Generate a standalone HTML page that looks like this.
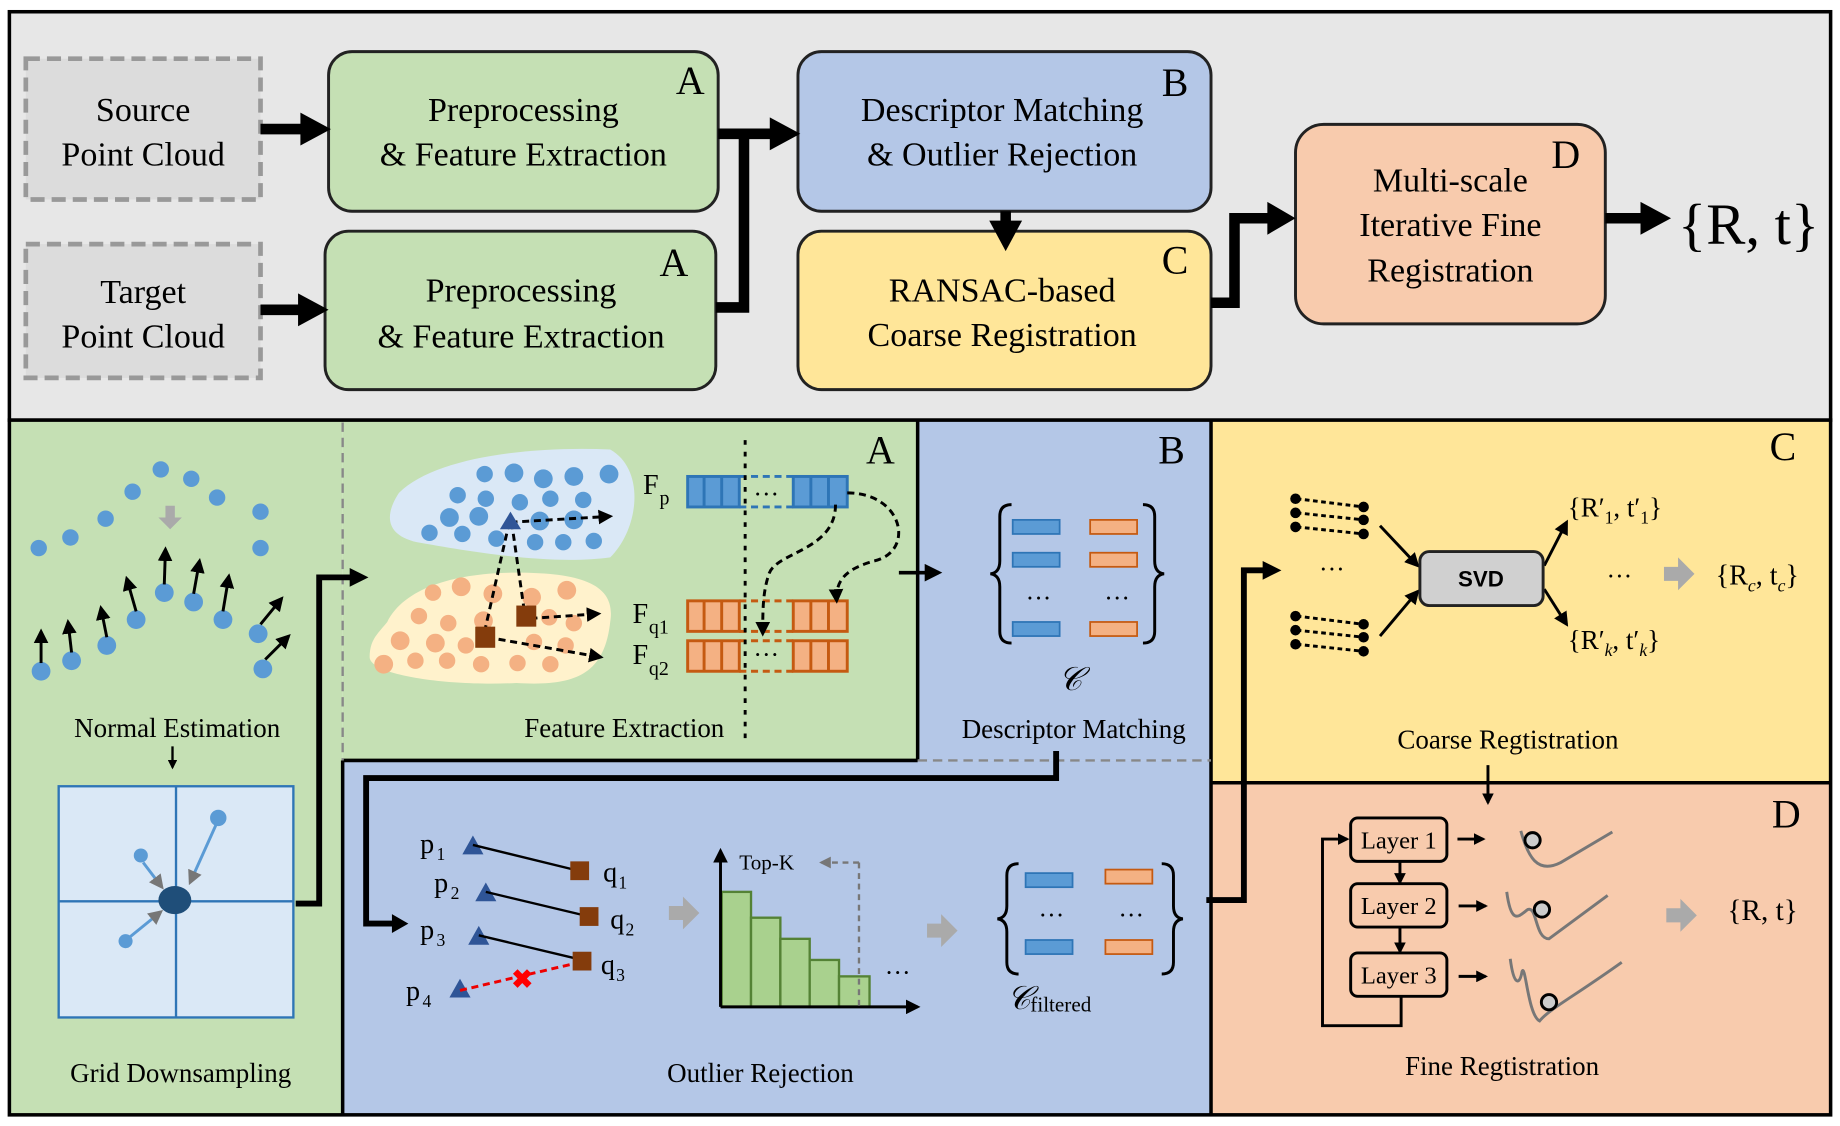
<!DOCTYPE html>
<html><head><meta charset="utf-8"><style>html,body{margin:0;padding:0;background:#fff}svg{display:block}</style></head><body>
<svg width="1840" height="1126" viewBox="0 0 1568 959.5" preserveAspectRatio="none" xmlns="http://www.w3.org/2000/svg" font-family="Liberation Serif, serif">
<defs>
<marker id="ah" viewBox="0 0 10 10" refX="8" refY="5" markerWidth="5" markerHeight="5" orient="auto"><path d="M0,0 L10,5 L0,10 z" fill="#000"/></marker>
<marker id="ahs" viewBox="0 0 10 10" refX="8" refY="5" markerWidth="4" markerHeight="4" orient="auto"><path d="M0,0 L10,5 L0,10 z" fill="#000"/></marker>
<marker id="ahg" viewBox="0 0 10 10" refX="8" refY="5" markerWidth="5" markerHeight="5" orient="auto"><path d="M0,0 L10,5 L0,10 z" fill="#777"/></marker>
</defs>
<!-- top panel -->
<rect x="8" y="10" width="1552" height="348" fill="#e7e7e7" stroke="#000" stroke-width="3"/>
<rect x="22" y="50" width="200" height="120" fill="#dcdcdc" stroke="#999" stroke-width="4" stroke-dasharray="12,6"/>
<text x="122" y="103" font-size="29" text-anchor="middle">Source</text>
<text x="122" y="141" font-size="29" text-anchor="middle">Point Cloud</text>
<rect x="22" y="208" width="200" height="114" fill="#dcdcdc" stroke="#999" stroke-width="4" stroke-dasharray="12,6"/>
<text x="122" y="258" font-size="29" text-anchor="middle">Target</text>
<text x="122" y="296" font-size="29" text-anchor="middle">Point Cloud</text>
<rect x="280" y="44" width="332" height="136" rx="20" fill="#c5e0b4" stroke="#222" stroke-width="2.5"/>
<text x="446" y="103" font-size="29" text-anchor="middle">Preprocessing</text>
<text x="446" y="141" font-size="29" text-anchor="middle">&amp; Feature Extraction</text>
<text x="576" y="80" font-size="34">A</text>
<rect x="277" y="197" width="333" height="135" rx="20" fill="#c5e0b4" stroke="#222" stroke-width="2.5"/>
<text x="444" y="257" font-size="29" text-anchor="middle">Preprocessing</text>
<text x="444" y="296" font-size="29" text-anchor="middle">&amp; Feature Extraction</text>
<text x="562" y="235" font-size="34">A</text>
<rect x="680" y="44" width="352" height="136" rx="20" fill="#b4c7e7" stroke="#222" stroke-width="2.5"/>
<text x="854" y="103" font-size="29" text-anchor="middle">Descriptor Matching</text>
<text x="854" y="141" font-size="29" text-anchor="middle">&amp; Outlier Rejection</text>
<text x="990" y="82" font-size="34">B</text>
<rect x="680" y="197" width="352" height="135" rx="20" fill="#ffe699" stroke="#222" stroke-width="2.5"/>
<text x="854" y="257" font-size="29" text-anchor="middle">RANSAC-based</text>
<text x="854" y="295" font-size="29" text-anchor="middle">Coarse Registration</text>
<text x="990" y="233" font-size="34">C</text>
<rect x="1104" y="106" width="264" height="170" rx="24" fill="#f8cbad" stroke="#222" stroke-width="2.5"/>
<text x="1236" y="163" font-size="29" text-anchor="middle">Multi-scale</text>
<text x="1236" y="201" font-size="29" text-anchor="middle">Iterative Fine</text>
<text x="1236" y="240" font-size="29" text-anchor="middle">Registration</text>
<text x="1322" y="143" font-size="34">D</text>
<text x="1430" y="208" font-size="50">{R, t}</text>
<g stroke="#000" stroke-width="9" fill="none">
<line x1="222" y1="110" x2="262" y2="110"/><line x1="222" y1="264" x2="260" y2="264"/>
<polyline points="612,114 634,114 634,262 610,262"/><line x1="634" y1="114" x2="662" y2="114"/>
<line x1="857" y1="180" x2="857" y2="196"/>
<polyline points="1032,258 1052,258 1052,186 1086,186"/>
<line x1="1368" y1="186" x2="1406" y2="186"/>
</g>
<g fill="#000">
<path d="M256,96 L282,110 L256,124z"/><path d="M254,250 L280,264 L254,278z"/>
<path d="M656,100 L682,114 L656,128z"/><path d="M843,188 L857,214 L871,188z"/>
<path d="M1080,172 L1104,186 L1080,200z"/><path d="M1398,172 L1424,186 L1398,200z"/>
</g>
<!-- bottom panels -->
<rect x="8" y="358" width="284" height="592" fill="#c5e0b4"/>
<rect x="292" y="358" width="490" height="290" fill="#c5e0b4"/>
<rect x="782" y="358" width="250" height="290" fill="#b4c7e7"/>
<rect x="292" y="648" width="740" height="302" fill="#b4c7e7"/>
<rect x="1032" y="358" width="528" height="309" fill="#ffe699"/>
<rect x="1032" y="667" width="528" height="283" fill="#f8cbad"/>
<g stroke="#000" stroke-width="3" fill="none">
<rect x="8" y="358" width="1552" height="592"/>
<line x1="292" y1="648" x2="292" y2="950"/><line x1="292" y1="648" x2="782" y2="648"/>
<line x1="782" y1="358" x2="782" y2="648"/><line x1="1032" y1="358" x2="1032" y2="950"/>
<line x1="1032" y1="667" x2="1560" y2="667"/>
</g>
<line x1="292" y1="360" x2="292" y2="648" stroke="#888" stroke-width="2" stroke-dasharray="8,5"/>
<line x1="782" y1="648" x2="1032" y2="648" stroke="#888" stroke-width="2" stroke-dasharray="8,5"/>
<text x="738" y="395" font-size="34">A</text><text x="987" y="395" font-size="34">B</text>
<text x="1508" y="392" font-size="34">C</text><text x="1510" y="705" font-size="34">D</text>
<!-- normal estimation -->
<g fill="#5b9bd5">
<ellipse cx="33" cy="467" rx="7" ry="7"/><ellipse cx="60" cy="458" rx="7" ry="7"/><ellipse cx="90" cy="442" rx="7" ry="7"/>
<ellipse cx="113" cy="419" rx="7" ry="7"/><ellipse cx="137" cy="400" rx="7" ry="7"/><ellipse cx="163" cy="408" rx="7" ry="7"/>
<ellipse cx="185" cy="424" rx="7" ry="7"/><ellipse cx="222" cy="436" rx="7" ry="7"/><ellipse cx="222" cy="467" rx="7" ry="7"/>
<ellipse cx="35" cy="572" rx="8" ry="8"/><ellipse cx="61" cy="563" rx="8" ry="8"/><ellipse cx="91" cy="550" rx="8" ry="8"/>
<ellipse cx="116" cy="528" rx="8" ry="8"/><ellipse cx="140" cy="505" rx="8" ry="8"/><ellipse cx="165" cy="513" rx="8" ry="8"/>
<ellipse cx="190" cy="528" rx="8" ry="8"/><ellipse cx="220" cy="540" rx="8" ry="8"/><ellipse cx="224" cy="570" rx="8" ry="8"/>
</g>
<path d="M141,431 h8 v10 h6 l-10,10 l-10,-10 h6z" fill="#aaa"/>
<g stroke="#000" stroke-width="2.5" marker-end="url(#ah)">
<line x1="35" y1="565" x2="35" y2="538"/><line x1="61" y1="556" x2="58" y2="530"/><line x1="91" y1="543" x2="86" y2="518"/>
<line x1="116" y1="521" x2="108" y2="493"/><line x1="140" y1="498" x2="141" y2="468"/><line x1="165" y1="506" x2="170" y2="478"/>
<line x1="190" y1="521" x2="195" y2="491"/><line x1="222" y1="532" x2="240" y2="510"/><line x1="226" y1="562" x2="246" y2="542"/>
</g>
<text x="151" y="628" font-size="23" text-anchor="middle">Normal Estimation</text>
<line x1="147" y1="636" x2="147" y2="654" stroke="#000" stroke-width="2" marker-end="url(#ahs)"/>
<rect x="50" y="670" width="200" height="197" fill="#dae8f6" stroke="#2e75b6" stroke-width="2"/>
<line x1="150" y1="670" x2="150" y2="867" stroke="#2e75b6" stroke-width="2"/><line x1="50" y1="768" x2="250" y2="768" stroke="#2e75b6" stroke-width="2"/>
<ellipse cx="149" cy="767" rx="14" ry="12" fill="#1f4e79"/>
<g fill="#5b9bd5"><circle cx="186" cy="697" r="7"/><circle cx="120" cy="729" r="6"/><circle cx="107" cy="802" r="6"/></g>
<g stroke="#5b9bd5" stroke-width="2.5" marker-end="url(#ahg)"><line x1="184" y1="703" x2="162" y2="752"/><line x1="122" y1="735" x2="138" y2="756"/><line x1="110" y1="799" x2="137" y2="777"/></g>
<text x="154" y="922" font-size="23" text-anchor="middle">Grid Downsampling</text>
<polyline points="252,770 272,770 272,492 300,492" stroke="#000" stroke-width="5" fill="none"/><path d="M298,484 L314,492 L298,500z"/>
<!-- feature extraction -->
<path d="M340,420 C370,390 450,380 520,383 C550,400 545,450 520,475 C470,482 400,470 355,462 C325,455 330,435 340,420z" fill="#dae8f6"/>
<path d="M330,530 C345,500 390,488 440,488 C500,488 525,500 520,530 C515,575 490,585 440,582 C380,585 315,575 315,560 C315,545 322,540 330,530z" fill="#fff2cc"/>
<g fill="#5b9bd5">
<circle cx="413" cy="404" r="7"/><circle cx="438" cy="403" r="8"/><circle cx="463" cy="408" r="8"/><circle cx="489" cy="406" r="8"/><circle cx="519" cy="404" r="8"/>
<circle cx="390" cy="422" r="7"/><circle cx="414" cy="425" r="7"/><circle cx="443" cy="428" r="7"/><circle cx="469" cy="425" r="7"/><circle cx="497" cy="426" r="7"/>
<circle cx="383" cy="441" r="8"/><circle cx="408" cy="440" r="8"/><circle cx="460" cy="444" r="8"/><circle cx="489" cy="443" r="8"/>
<circle cx="366" cy="454" r="7"/><circle cx="394" cy="455" r="7"/><circle cx="423" cy="459" r="7"/><circle cx="456" cy="462" r="7"/><circle cx="480" cy="462" r="7"/><circle cx="506" cy="461" r="7"/>
</g>
<g fill="#f4b183">
<circle cx="369" cy="505" r="7"/><circle cx="393" cy="500" r="8"/><circle cx="420" cy="506" r="8"/><circle cx="453" cy="509" r="8"/><circle cx="483" cy="503" r="8"/>
<circle cx="357" cy="525" r="7"/><circle cx="382" cy="531" r="7"/><circle cx="412" cy="529" r="8"/><circle cx="468" cy="526" r="7"/><circle cx="489" cy="531" r="7"/>
<circle cx="341" cy="546" r="8"/><circle cx="371" cy="548" r="8"/><circle cx="397" cy="550" r="7"/><circle cx="455" cy="547" r="7"/><circle cx="482" cy="550" r="7"/>
<circle cx="327" cy="566" r="8"/><circle cx="354" cy="563" r="7"/><circle cx="381" cy="563" r="7"/><circle cx="410" cy="566" r="7"/><circle cx="441" cy="565" r="7"/><circle cx="469" cy="566" r="7"/>
</g>
<g stroke="#000" stroke-width="2.5" stroke-dasharray="6,4" fill="none">
<line x1="435" y1="445" x2="520" y2="440" marker-end="url(#ah)"/>
<line x1="434" y1="445" x2="413" y2="538"/><line x1="436" y1="445" x2="447" y2="522"/>
<line x1="452" y1="527" x2="510" y2="523" marker-end="url(#ah)"/>
<line x1="415" y1="543" x2="512" y2="560" marker-end="url(#ah)"/>
</g>
<path d="M426,451 L435,436 L444,451z" fill="#2f5597"/>
<rect x="440" y="516" width="17" height="18" fill="#843c0c"/><rect x="405" y="534" width="17" height="18" fill="#843c0c"/>
<text x="548" y="421" font-size="24">F</text><text x="562" y="430" font-size="17">p</text>
<text x="539" y="531" font-size="24">F</text><text x="553" y="540" font-size="17">q1</text>
<text x="539" y="566" font-size="24">F</text><text x="553" y="575" font-size="17">q2</text>
<g stroke-width="2.5">
<rect x="586" y="406" width="44" height="26" fill="#5b9bd5" stroke="#2e75b6"/><rect x="676" y="406" width="46" height="26" fill="#5b9bd5" stroke="#2e75b6"/>
<path d="M600,406v26M615,406v26M691,406v26M706,406v26" stroke="#2e75b6"/>
<path d="M630,406h46M630,432h46" stroke="#2e75b6" stroke-dasharray="6,4"/>
<rect x="586" y="512" width="44" height="26" fill="#f4b183" stroke="#c55a11"/><rect x="676" y="512" width="46" height="26" fill="#f4b183" stroke="#c55a11"/>
<rect x="586" y="546" width="44" height="26" fill="#f4b183" stroke="#c55a11"/><rect x="676" y="546" width="46" height="26" fill="#f4b183" stroke="#c55a11"/>
<path d="M600,512v26M615,512v26M691,512v26M706,512v26M600,546v26M615,546v26M691,546v26M706,546v26" stroke="#c55a11"/>
<path d="M630,512h46M630,538h46M630,546h46M630,572h46" stroke="#c55a11" stroke-dasharray="6,4"/>
</g>
<text x="653" y="428" font-size="22" text-anchor="middle">···</text><text x="653" y="565" font-size="22" text-anchor="middle">···</text>
<line x1="635" y1="375" x2="635" y2="630" stroke="#000" stroke-width="2.5" stroke-dasharray="4,6"/>
<g stroke="#000" stroke-width="2.5" stroke-dasharray="6,4" fill="none">
<path d="M722,420 C770,420 780,470 745,478 C720,485 712,495 713,512" marker-end="url(#ah)"/>
<path d="M712,430 C712,470 660,470 655,490 C650,505 650,520 650,540" marker-end="url(#ah)"/>
</g>
<text x="532" y="628" font-size="23" text-anchor="middle">Feature Extraction</text>
<line x1="766" y1="488" x2="800" y2="488" stroke="#000" stroke-width="3" marker-end="url(#ah)"/>
<!-- descriptor matching -->
<g fill="none" stroke="#000" stroke-width="2.5">
<path d="M862,430 q-10,0 -10,10 v38 q0,10 -8,11 q8,1 8,11 v38 q0,10 10,10"/>
<path d="M974,430 q10,0 10,10 v38 q0,10 8,11 q-8,1 -8,11 v38 q0,10 -10,10"/>
</g>
<g fill="#5b9bd5" stroke="#2e75b6" stroke-width="1.5">
<rect x="863" y="443" width="40" height="12"/><rect x="863" y="471" width="40" height="12"/><rect x="863" y="530" width="40" height="12"/></g>
<g fill="#f4b183" stroke="#c55a11" stroke-width="1.5">
<rect x="929" y="443" width="40" height="12"/><rect x="929" y="471" width="40" height="12"/><rect x="929" y="530" width="40" height="12"/></g>
<text x="885" y="517" font-size="22" text-anchor="middle">···</text><text x="952" y="517" font-size="22" text-anchor="middle">···</text>
<text x="912" y="588" font-size="28" font-style="italic" text-anchor="middle">𝒞</text>
<text x="915" y="629" font-size="23" text-anchor="middle">Descriptor Matching</text>
<!-- outlier rejection -->
<polyline points="900,640 900,663 312,663 312,787 340,787" stroke="#000" stroke-width="5" fill="none"/><path d="M334,779 L348,787 L334,795z"/>
<text x="358" y="727" font-size="24">p</text><text x="372" y="733" font-size="15">1</text>
<text x="370" y="760" font-size="24">p</text><text x="384" y="766" font-size="15">2</text>
<text x="358" y="800" font-size="24">p</text><text x="372" y="806" font-size="15">3</text>
<text x="346" y="852" font-size="24">p</text><text x="360" y="858" font-size="15">4</text>
<g fill="#2f5597"><path d="M394,728 L403,712 L412,728z"/><path d="M405,768 L414,752 L423,768z"/><path d="M399,805 L408,789 L417,805z"/><path d="M383,850 L392,834 L401,850z"/></g>
<g stroke="#000" stroke-width="2"><line x1="403" y1="720" x2="493" y2="742"/><line x1="414" y1="760" x2="502" y2="781"/><line x1="408" y1="797" x2="496" y2="818"/></g>
<line x1="392" y1="844" x2="494" y2="820" stroke="#e00" stroke-width="2.5" stroke-dasharray="6,4"/>
<text x="445" y="842" font-size="22" fill="#f00" text-anchor="middle" font-weight="bold">✖</text>
<g fill="#843c0c"><rect x="486" y="734" width="16" height="16"/><rect x="494" y="773" width="16" height="16"/><rect x="488" y="811" width="16" height="16"/></g>
<text x="514" y="751" font-size="24">q</text><text x="527" y="757" font-size="15">1</text>
<text x="520" y="791" font-size="24">q</text><text x="533" y="797" font-size="15">2</text>
<text x="512" y="830" font-size="24">q</text><text x="525" y="836" font-size="15">3</text>
<path d="M570,772 h12 v-8 l14,14 l-14,14 v-8 h-12z" fill="#aaa"/>
<g fill="#a9d18e" stroke="#548235" stroke-width="2">
<rect x="615" y="760" width="25" height="98"/><rect x="640" y="782" width="25" height="76"/><rect x="665" y="800" width="25" height="58"/><rect x="690" y="818" width="25" height="40"/><rect x="715" y="832" width="26" height="26"/></g>
<line x1="614" y1="858" x2="782" y2="858" stroke="#000" stroke-width="2.5" marker-end="url(#ah)"/>
<line x1="614" y1="858" x2="614" y2="725" stroke="#000" stroke-width="2.5" marker-end="url(#ah)"/>
<text x="630" y="741" font-size="18">Top-K</text>
<line x1="732" y1="735" x2="732" y2="858" stroke="#777" stroke-width="2" stroke-dasharray="5,4"/>
<line x1="732" y1="735" x2="700" y2="735" stroke="#777" stroke-width="2" stroke-dasharray="5,4" marker-end="url(#ahg)"/>
<text x="765" y="836" font-size="22" text-anchor="middle">···</text>
<path d="M790,787 h12 v-8 l14,14 l-14,14 v-8 h-12z" fill="#aaa"/>
<g fill="none" stroke="#000" stroke-width="2.5">
<path d="M868,736 q-10,0 -10,10 v26 q0,10 -8,11 q8,1 8,11 v26 q0,10 10,10"/>
<path d="M990,736 q10,0 10,10 v26 q0,10 8,11 q-8,1 -8,11 v26 q0,10 -10,10"/>
</g>
<g fill="#5b9bd5" stroke="#2e75b6" stroke-width="1.5"><rect x="874" y="744" width="40" height="12"/><rect x="874" y="801" width="40" height="12"/></g>
<g fill="#f4b183" stroke="#c55a11" stroke-width="1.5"><rect x="942" y="741" width="40" height="12"/><rect x="942" y="801" width="40" height="12"/></g>
<text x="896" y="787" font-size="22" text-anchor="middle">···</text><text x="964" y="787" font-size="22" text-anchor="middle">···</text>
<text x="858" y="860" font-size="28" font-style="italic">𝒞</text><text x="878" y="862" font-size="18">filtered</text>
<text x="648" y="922" font-size="23" text-anchor="middle">Outlier Rejection</text>
<polyline points="1028,767 1060,767 1060,486 1080,486" stroke="#000" stroke-width="5" fill="none"/><path d="M1076,478 L1092,486 L1076,494z"/>
<!-- coarse -->
<g stroke="#000" stroke-width="2.5">
<line x1="1105" y1="425" x2="1162" y2="432" stroke-dasharray="4,3"/><line x1="1105" y1="437" x2="1162" y2="443" stroke-dasharray="4,3"/><line x1="1105" y1="449" x2="1162" y2="455" stroke-dasharray="4,3"/>
<line x1="1105" y1="525" x2="1162" y2="532" stroke-dasharray="4,3"/><line x1="1105" y1="537" x2="1162" y2="543" stroke-dasharray="4,3"/><line x1="1105" y1="549" x2="1162" y2="555" stroke-dasharray="4,3"/>
</g>
<g fill="#000"><circle cx="1104" cy="425" r="4.5"/><circle cx="1104" cy="437" r="4.5"/><circle cx="1104" cy="449" r="4.5"/><circle cx="1162" cy="432" r="4.5"/><circle cx="1162" cy="443" r="4.5"/><circle cx="1162" cy="455" r="4.5"/>
<circle cx="1104" cy="525" r="4.5"/><circle cx="1104" cy="537" r="4.5"/><circle cx="1104" cy="549" r="4.5"/><circle cx="1162" cy="532" r="4.5"/><circle cx="1162" cy="543" r="4.5"/><circle cx="1162" cy="555" r="4.5"/></g>
<text x="1135" y="492" font-size="22" text-anchor="middle">···</text>
<g stroke="#000" stroke-width="2.5" marker-end="url(#ah)">
<line x1="1176" y1="448" x2="1208" y2="482"/><line x1="1176" y1="542" x2="1208" y2="504"/>
<line x1="1316" y1="482" x2="1335" y2="445"/><line x1="1316" y1="502" x2="1335" y2="532"/></g>
<rect x="1210" y="470" width="105" height="46" rx="8" fill="#d0d0d0" stroke="#222" stroke-width="2.5"/>
<text x="1262" y="500" font-size="19" font-weight="bold" font-family="Liberation Sans, sans-serif" text-anchor="middle">SVD</text>
<text x="1336" y="440" font-size="23">{R′<tspan font-size="15" dy="6">1</tspan><tspan dy="-6">, t′</tspan><tspan font-size="15" dy="6">1</tspan><tspan dy="-6">}</tspan></text>
<text x="1336" y="553" font-size="23">{R′<tspan font-size="15" dy="6" font-style="italic">k</tspan><tspan dy="-6">, t′</tspan><tspan font-size="15" dy="6" font-style="italic">k</tspan><tspan dy="-6">}</tspan></text>
<text x="1380" y="498" font-size="22" text-anchor="middle">···</text>
<path d="M1418,483 h12 v-8 l14,14 l-14,14 v-8 h-12z" fill="#aaa"/>
<text x="1462" y="498" font-size="24">{R<tspan font-size="15" dy="6" font-style="italic">c</tspan><tspan dy="-6">, t</tspan><tspan font-size="15" dy="6" font-style="italic">c</tspan><tspan dy="-6">}</tspan></text>
<text x="1285" y="638" font-size="23" text-anchor="middle">Coarse Regtistration</text>
<line x1="1268" y1="652" x2="1268" y2="684" stroke="#000" stroke-width="2.5" marker-end="url(#ahs)"/>
<!-- fine -->
<g fill="none" stroke="#000" stroke-width="2.5">
<rect x="1151" y="697" width="82" height="37" rx="6"/><rect x="1151" y="753" width="82" height="37" rx="6"/><rect x="1151" y="812" width="82" height="37" rx="6"/>
<polyline points="1194,849 1194,874 1127,874 1127,715 1148,715" marker-end="url(#ahs)"/>
<line x1="1193" y1="734" x2="1193" y2="752" marker-end="url(#ahs)"/><line x1="1193" y1="790" x2="1193" y2="811" marker-end="url(#ahs)"/>
<line x1="1242" y1="715" x2="1264" y2="715" marker-end="url(#ahs)"/><line x1="1243" y1="772" x2="1266" y2="772" marker-end="url(#ahs)"/><line x1="1243" y1="832" x2="1266" y2="832" marker-end="url(#ahs)"/>
</g>
<text x="1192" y="723" font-size="21" text-anchor="middle">Layer 1</text>
<text x="1192" y="779" font-size="21" text-anchor="middle">Layer 2</text>
<text x="1192" y="838" font-size="21" text-anchor="middle">Layer 3</text>
<g fill="none" stroke="#777" stroke-width="2.5">
<path d="M1296,708 C1302,730 1310,745 1330,735 L1374,709"/>
<path d="M1284,760 C1288,790 1295,780 1302,775 C1310,772 1308,800 1320,800 L1370,763"/>
<path d="M1287,817 C1290,840 1295,840 1297,828 C1300,820 1302,865 1312,870 C1320,860 1340,850 1382,820"/>
</g>
<g fill="#ccc" stroke="#000" stroke-width="2.5"><circle cx="1306" cy="716" r="6.5"/><circle cx="1314" cy="775" r="6.5"/><circle cx="1320" cy="854" r="6.5"/></g>
<path d="M1420,774 h12 v-8 l14,14 l-14,14 v-8 h-12z" fill="#aaa"/>
<text x="1472" y="784" font-size="25">{R, t}</text>
<text x="1280" y="916" font-size="23" text-anchor="middle">Fine Regtistration</text>
</svg>
</body></html>
